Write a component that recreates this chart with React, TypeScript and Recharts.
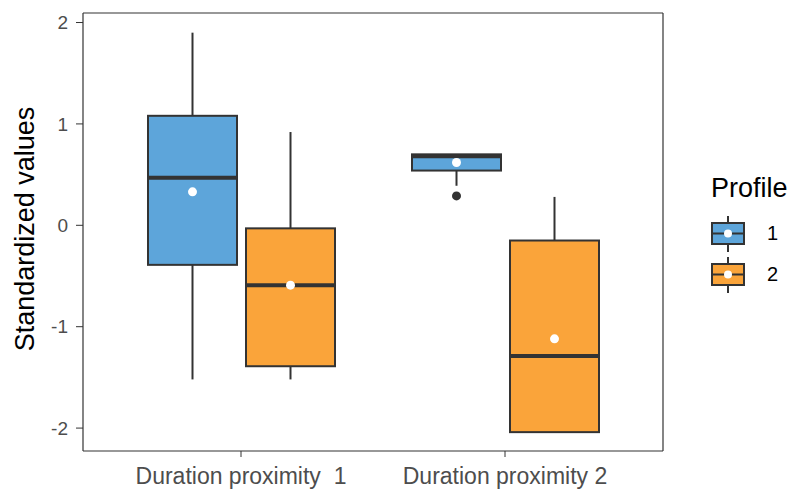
import { ComposedChart, Bar, XAxis, YAxis } from 'recharts';

const categories = ['Duration proximity  1', 'Duration proximity 2'];
const profiles = ['1', '2'];
const profileColors = ['#5DA5DA', '#FAA43A'];
const yTicks = [-2, -1, 0, 1, 2];

// box statistics, one entry per category
const p1Low = [-1.52, 0.39];
const p1Q1 = [-0.39, 0.54];
const p1Median = [0.47, 0.68];
const p1Q3 = [1.08, 0.7];
const p1High = [1.9, 0.7];
const p1Mean = [0.33, 0.62];
const p1Outliers = [[], [0.29]];

const p2Low = [-1.52, -2.04];
const p2Q1 = [-1.39, -2.04];
const p2Median = [-0.59, -1.29];
const p2Q3 = [-0.03, -0.15];
const p2High = [0.92, 0.28];
const p2Mean = [-0.59, -1.12];
const p2Outliers = [[], []];

type Summary = {
  low: number;
  q1: number;
  median: number;
  q3: number;
  high: number;
  mean: number;
  outliers: number[];
};

const data = categories.map((category, i) => ({
  category,
  p1: {
    low: p1Low[i],
    q1: p1Q1[i],
    median: p1Median[i],
    q3: p1Q3[i],
    high: p1High[i],
    mean: p1Mean[i],
    outliers: p1Outliers[i],
  },
  p2: {
    low: p2Low[i],
    q1: p2Q1[i],
    median: p2Median[i],
    q3: p2Q3[i],
    high: p2High[i],
    mean: p2Mean[i],
    outliers: p2Outliers[i],
  },
}));

const INK = '#333333';
const FONT = 'Liberation Sans, Arial, sans-serif';
const Y_DOMAIN = [-2.226, 2.094];

const extent = (s: Summary) => [
  Math.min(s.low, ...s.outliers),
  Math.max(s.high, ...s.outliers),
];

// The bar spans the full extent of a group; everything else is placed
// inside it along the same linear y scale.
function boxShape(key: 'p1' | 'p2', fill: string) {
  return (props: any) => {
    const { x, y, width, height, payload } = props;
    const s: Summary = payload[key];
    const [lo, hi] = extent(s);
    const top = Math.min(y, y + height);
    const span = Math.abs(height);
    const py = (v: number) => top + ((hi - v) / (hi - lo)) * span;
    const cx = x + width / 2;
    return (
      <g>
        <line x1={cx} x2={cx} y1={py(s.high)} y2={py(s.q3)} stroke={INK} strokeWidth={2} />
        <line x1={cx} x2={cx} y1={py(s.q1)} y2={py(s.low)} stroke={INK} strokeWidth={2} />
        <rect
          x={x}
          y={py(s.q3)}
          width={width}
          height={py(s.q1) - py(s.q3)}
          fill={fill}
          stroke={INK}
          strokeWidth={2}
        />
        <line
          x1={x}
          x2={x + width}
          y1={py(s.median)}
          y2={py(s.median)}
          stroke={INK}
          strokeWidth={4}
        />
        {s.outliers.map((o, j) => (
          <circle key={j} cx={cx} cy={py(o)} r={4.5} fill={INK} />
        ))}
        <circle cx={cx} cy={py(s.mean)} r={4.5} fill="#ffffff" />
      </g>
    );
  };
}

const CategoryTick = (props: any) => {
  const { x, y, payload } = props;
  return (
    <text
      x={x}
      y={y}
      dy={25}
      textAnchor="middle"
      fill="#4d4d4d"
      fontSize={23}
      fontFamily={FONT}
      style={{ whiteSpace: 'pre' }}
    >
      {payload.value}
    </text>
  );
};

const AxisTitle = (props: any) => {
  const { viewBox } = props;
  const cx = 25;
  const cy = viewBox.y + viewBox.height / 2 - 3;
  return (
    <text
      x={cx}
      y={cy}
      transform={`rotate(-90, ${cx}, ${cy})`}
      textAnchor="middle"
      dominantBaseline="central"
      fill="#000000"
      fontSize={27}
      fontFamily={FONT}
    >
      Standardized values
    </text>
  );
};

const LegendKey = ({ color }: { color: string }) => (
  <svg width={36} height={36}>
    <line x1={17} x2={17} y1={0} y2={36} stroke={INK} strokeWidth={2} />
    <rect x={1} y={7} width={32} height={21} fill={color} stroke={INK} strokeWidth={2} />
    <line x1={1} x2={33} y1={17.5} y2={17.5} stroke={INK} strokeWidth={2} />
    <circle cx={17} cy={17.5} r={4} fill="#ffffff" />
  </svg>
);

const ProfileLegend = () => (
  <div
    style={{
      position: 'absolute',
      left: 711,
      top: 172,
      width: 82,
      fontFamily: FONT,
    }}
  >
    <div style={{ fontSize: 27, lineHeight: '32px', color: '#000' }}>Profile</div>
    <div style={{ marginTop: 9 }}>
      {profiles.map((p, i) => (
        <div key={p} style={{ display: 'flex', alignItems: 'center', height: 41 }}>
          <LegendKey color={profileColors[i]} />
          <span style={{ fontSize: 20, marginLeft: 20, color: '#000' }}>{p}</span>
        </div>
      ))}
    </div>
  </div>
);

export default function App() {
  return (
    <div style={{ position: 'absolute', left: 0, top: 0, width: 793, height: 491, background: '#fff' }}>
      <ComposedChart
        width={793}
        height={491}
        data={data}
        margin={{ top: 12, right: 129, bottom: 0, left: 0 }}
        barSize={89}
        barGap={9}
      >
        <XAxis
          dataKey="category"
          height={40}
          padding={{ left: 26, right: 26 }}
          tick={<CategoryTick />}
          tickSize={6}
          tickLine={{ stroke: INK }}
          axisLine={{ stroke: INK, strokeWidth: 1.2 }}
          interval={0}
        />
        <XAxis
          xAxisId="top"
          orientation="top"
          dataKey="category"
          height={1}
          tick={false}
          tickLine={false}
          axisLine={{ stroke: INK, strokeWidth: 1.2 }}
        />
        <YAxis
          type="number"
          width={83}
          domain={Y_DOMAIN}
          allowDataOverflow
          ticks={yTicks}
          tickSize={7}
          tickMargin={8}
          tick={{ fill: '#4d4d4d', fontSize: 19, fontFamily: FONT }}
          tickLine={{ stroke: INK }}
          axisLine={{ stroke: INK, strokeWidth: 1.2 }}
          label={{ content: <AxisTitle /> }}
        />
        <YAxis
          yAxisId="right"
          orientation="right"
          type="number"
          width={1}
          domain={Y_DOMAIN}
          tick={false}
          tickLine={false}
          axisLine={{ stroke: INK, strokeWidth: 1.2 }}
        />
        <Bar
          name={profiles[0]}
          dataKey={(row: any) => extent(row.p1)}
          fill={profileColors[0]}
          shape={boxShape('p1', profileColors[0])}
          isAnimationActive={false}
        />
        <Bar
          name={profiles[1]}
          dataKey={(row: any) => extent(row.p2)}
          fill={profileColors[1]}
          shape={boxShape('p2', profileColors[1])}
          isAnimationActive={false}
        />
      </ComposedChart>
      <ProfileLegend />
    </div>
  );
}
